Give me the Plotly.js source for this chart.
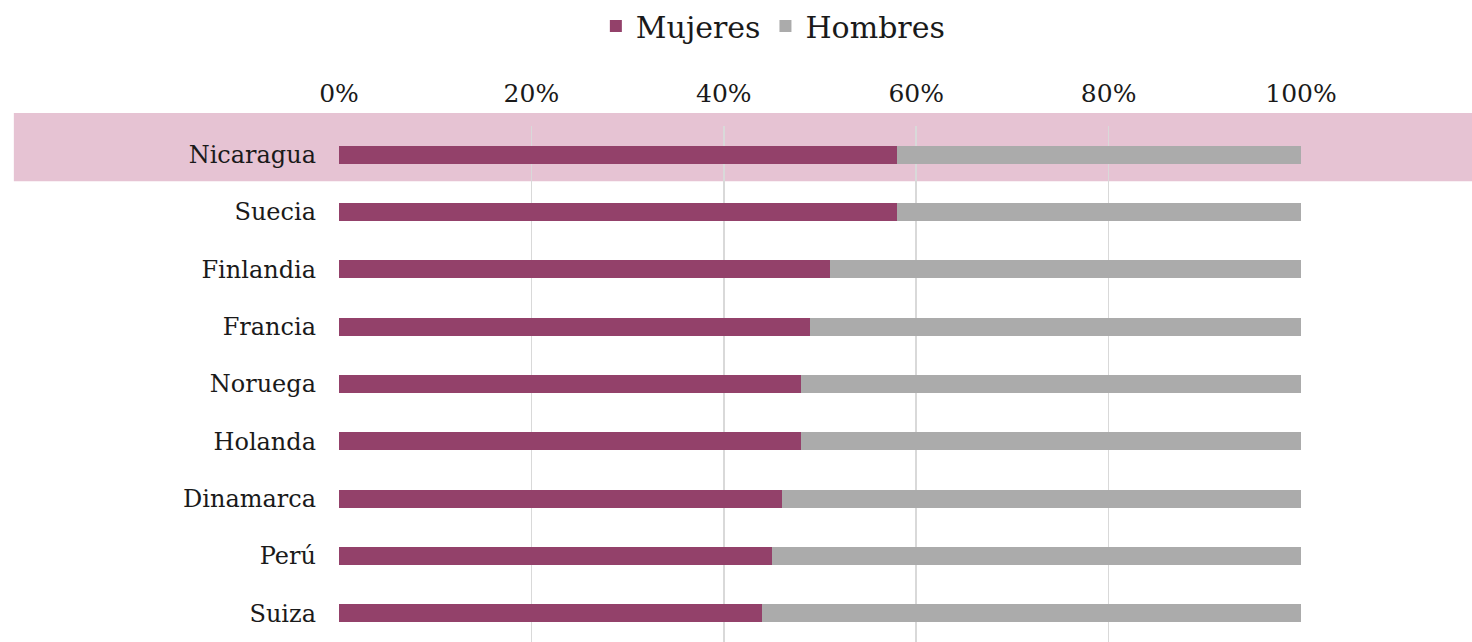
<!DOCTYPE html>
<html>
<head>
<meta charset="utf-8">
<script src="https://cdn.plot.ly/plotly-3.0.1.min.js"></script>
<style>html,body{margin:0;padding:0;background:#fff;}#chart{width:1472px;height:642px;}</style>
</head>
<body>
<div id="chart"></div>
<script>
const countries = ["Nicaragua","Suecia","Finlandia","Francia","Noruega","Holanda","Dinamarca","Perú","Suiza"];
const mujeres = [0.58, 0.58, 0.51, 0.49, 0.48, 0.48, 0.46, 0.45, 0.44];
const hombres = [0.42, 0.42, 0.49, 0.51, 0.52, 0.52, 0.54, 0.55, 0.56];
const xTickVals = [0, 0.2, 0.4, 0.6, 0.8, 1.0];
const xTickText = ["0%","20%","40%","60%","80%","100%"];

const font = "DejaVu Serif, serif";
const traces = [
  {type:"bar", orientation:"h", name:"Mujeres", y:countries, x:mujeres,
   marker:{color:"#93416a"}, width:0.31, hoverinfo:"x+y"},
  {type:"bar", orientation:"h", name:"Hombres", y:countries, x:hombres,
   marker:{color:"#ababab"}, width:0.31, hoverinfo:"x+y"}
];
const layout = {
  width:1472, height:642,
  barmode:"stack",
  margin:{l:339, r:171, t:126, b:0, pad:0},
  paper_bgcolor:"#ffffff",
  plot_bgcolor:"rgba(0,0,0,0)",
  font:{family:font, color:"#1a1a1a", size:25},
  showlegend:true,
  legend:{orientation:"h", traceorder:"normal", x:0.451, xanchor:"center", y:1, yref:"container", yanchor:"top",
          font:{family:font, size:30, color:"#1a1a1a"}, itemwidth:30, tracegroupgap:0,
          bgcolor:"rgba(0,0,0,0)"},
  xaxis:{side:"top", range:[0,1], tickvals:xTickVals, ticktext:xTickText,
         showgrid:true, gridcolor:"#d9d9d9", gridwidth:1.5, zeroline:false,
         showline:false, ticks:"", ticklabelstandoff:18, fixedrange:true,
         tickfont:{family:font, size:25, color:"#1a1a1a"}},
  yaxis:{type:"category", autorange:"reversed", showgrid:false, zeroline:false,
         showline:false, ticks:"", ticklabelstandoff:22,
         tickfont:{family:font, size:24, color:"#1a1a1a"}},
  shapes:[{type:"rect", xref:"paper", yref:"paper", x0:-0.338, x1:1.2, y0:0.893, y1:1.025,
           fillcolor:"#e6c3d3", line:{width:0}, layer:"below"}]
};
Plotly.newPlot("chart", traces, layout, {displayModeBar:false, staticPlot:true});
</script>
</body>
</html>
